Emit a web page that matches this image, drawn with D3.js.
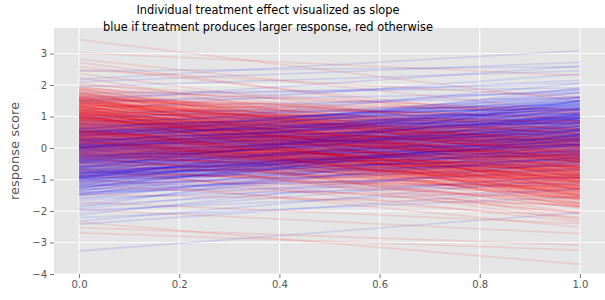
<!DOCTYPE html>
<html><head><meta charset="utf-8">
<script src="https://cdn.jsdelivr.net/npm/d3@7"></script>
<style>body{margin:0;background:#fff}svg{display:block}</style>
</head><body><svg id="c" width="605" height="300"></svg>
<script>
// response score without treatment (x = 0) and with treatment (x = 1), one entry per subject
const controlScore = [
  3.44, 3.02, 2.82, 2.72, 2.58, 2.48, 2.44, 2.36, 2.24, 2.18, 2.10, 2.05, 2.01,
  1.98, 1.95, 1.92, 1.90, 1.87, 1.84, 1.81, 1.78, 1.76, 1.73, 1.70, 1.68, 1.66, 1.63, 1.61, 1.59, 1.57, 1.55, 1.53, 1.52, 1.51, 1.50,
  1.49, 1.48, 1.46, 1.45, 1.44, 1.42, 1.41, 1.40, 1.38, 1.37, 1.35, 1.34, 1.32, 1.31, 1.30, 1.28, 1.27, 1.26, 1.24, 1.23,
  1.22, 1.20, 1.19, 1.18, 1.16, 1.15, 1.14, 1.12, 1.11, 1.10, 1.09, 1.08, 1.06, 1.05, 1.04, 1.03, 1.02, 1.01, 1.00, 1.00,
  0.99, 0.98, 0.97, 0.96, 0.95, 0.94, 0.93, 0.92, 0.91, 0.90, 0.89, 0.88, 0.87, 0.86, 0.85, 0.84, 0.83, 0.82, 0.81, 0.80,
  0.79, 0.78, 0.77, 0.76, 0.75, 0.74, 0.73, 0.72, 0.71, 0.70, 0.69, 0.68, 0.67, 0.66, 0.65, 0.64, 0.63, 0.62, 0.61, 0.60,
  0.59, 0.58, 0.57, 0.56, 0.55, 0.54, 0.53, 0.52, 0.52, 0.51, 0.51, 0.50, 0.50, 0.50, 0.50, 0.50,
  0.49, 0.48, 0.47, 0.46, 0.45, 0.44, 0.43, 0.42, 0.41, 0.40, 0.39, 0.38, 0.37, 0.36, 0.35, 0.34, 0.33, 0.32, 0.31, 0.30,
  0.29, 0.28, 0.27, 0.26, 0.25, 0.24, 0.23, 0.22, 0.21, 0.20, 0.19, 0.18, 0.17, 0.16, 0.15, 0.14, 0.13, 0.12, 0.11, 0.10,
  0.09, 0.08, 0.07, 0.06, 0.05, 0.05, 0.04, 0.03, 0.03, 0.02, 0.02, 0.01, 0.01, 0.00, 0.00, 0.00, 0.04, 0.12, 0.22, 0.33, 0.44, 0.27,
  -0.01, -0.02, -0.03, -0.04, -0.05, -0.06, -0.07, -0.08, -0.09, -0.10, -0.11, -0.12, -0.13, -0.14, -0.15, -0.16, -0.17, -0.18, -0.19, -0.20,
  -0.21, -0.22, -0.23, -0.24, -0.25, -0.26, -0.27, -0.28, -0.29, -0.30, -0.31, -0.32, -0.33, -0.34, -0.35, -0.36, -0.37, -0.38, -0.39, -0.40,
  -0.41, -0.42, -0.43, -0.44, -0.45, -0.46, -0.47, -0.48, -0.49, -0.50, -0.15, -0.35, -0.05, -0.25, -0.45, -0.20,
  -0.51, -0.53, -0.54, -0.56, -0.57, -0.59, -0.60, -0.62, -0.63, -0.65, -0.66, -0.68, -0.69, -0.71, -0.72, -0.74, -0.75, -0.77, -0.78, -0.80,
  -0.81, -0.83, -0.84, -0.86, -0.87, -0.89, -0.90, -0.92, -0.93, -0.95, -0.96, -0.97, -0.98, -0.99, -1.00, -0.58, -0.64, -0.76, -0.88, -0.94,
  -1.02, -1.04, -1.07, -1.09, -1.12, -1.14, -1.17, -1.19, -1.22, -1.24, -1.27, -1.29, -1.32, -1.34, -1.37, -1.39, -1.42, -1.44, -1.46, -1.48, -1.49, -1.50,
  -1.53, -1.58, -1.62, -1.67, -1.72, -1.78, -1.83, -1.88, -1.93, -1.98,
  -2.05, -2.13, -2.21, -2.32, -2.35, -2.42, -2.69, -3.27, -2.53, -1.95, -0.95,
  0.35, -0.62, 1.12, 0.08, -0.25, 0.78, 1.45, -0.90, 0.52, 0.18,
  -0.40, 0.95, 0.27, -1.05, 0.66, 1.30, -0.12, 0.44, 0.85, -0.70,
  1.05, 0.15, -0.33, 0.72, 1.58, -0.85, 0.38, 0.02, 1.22, -0.48,
  0.60, -0.18, 0.90, 1.38, -0.58, 0.25, 0.12, 1.15, -1.15, 0.48,
  0.82, -0.30, 1.50, 0.32, -0.75, 0.05, 1.02, 0.68, -0.08, 0.42,
  1.25, -0.52, 0.20, 0.98, -0.95, 0.58, 1.62, 0.10, -0.22, 0.75,
  0.30, 1.18, -0.65, 0.55, 0.88, -0.15, 1.42, -0.38, 0.22, 1.08,
  -0.80, 0.62, 0.00, 1.32, 0.46, -0.45, 0.92, 1.52, -0.05, 0.28,
  0.70, -1.00, 1.20, 0.40, -0.28, 0.80, 0.14, 1.68, -0.55, 0.50,
  1.00, -0.10, 0.36, 1.35, -0.68, 0.64, 0.06, 1.10, -0.35, 0.86,
  0.24, 1.48, -0.78, 0.58, 0.94, -0.20, 0.45, 1.28, -1.10, 0.16,
  0.76, 1.55, -0.42, 0.34, 1.06, -0.02, 0.62, -0.88, 1.40, 0.20,
  -0.15, 0.88, 1.15, -0.60, 0.40, 1.72, 0.08, -0.32, 0.96, 0.52,
  1.30, -0.48, 0.26, 0.74, -0.92, 1.08, 0.44, -0.12, 1.60, 0.32,
  0.12, 0.84, -0.70, 1.22, 0.56, -0.25, 0.98, 0.38, -1.20, 0.68,
  1.45, 0.04, -0.40, 0.90, 0.22, 1.12, -0.82, 0.60, 0.30, -0.05,
  1.85, 1.62, 1.40, 1.75, 1.18, 1.55, 0.95, 1.30, 1.68, 1.05, 1.48, 1.22, 1.80, 1.10, 1.35,
  1.58, 0.98, 1.42, 1.72, 1.15, 1.26, 1.52, 1.00, 1.64, 1.36, 1.90, 1.08, 1.45, 1.20, 1.60,
  -1.45, -0.90, -1.20, -0.65, -1.05, -1.30, -0.80, -0.98, -0.72, -1.38,
  -0.86, -1.12, -0.68, -1.24, -0.94, -0.75, -1.08, -0.83, -1.27, -0.60,
  0.10, -0.30, 0.45, -0.10, 0.25, -0.45, 0.35, 0.00, -0.20, 0.50, 0.15, -0.38, 0.30, -0.05, 0.40,
  0.30, -0.20, 0.75, 0.05, 0.55, -0.10, 0.40, 0.65, -0.30, 0.20, 0.80, 0.00, 0.45, 0.15, 0.60
];
const treatedScore = [
  1.48, 2.30, 1.15, 0.60, 0.85, 1.62, 2.58, 0.32, -0.35, 3.09, 2.72, 0.52, 1.10,
  -0.45, 2.45, 0.55, 1.05, -0.20, 1.20, 0.70, -0.95, 0.40, 1.90, 0.05, 0.85, -1.35, 0.30, 2.05, 0.60, -0.10, 1.20, -0.70, 0.45, 0.95, 2.60,
  -0.15, 1.75, -0.80, 0.55, 0.95, -0.30, 2.15, 0.30, -1.30, 0.75, 0.10, 1.25, -0.55, 0.45, 1.60, 0.00, -1.75, 0.70, 0.20, 1.10,
  -0.45, 0.35, 2.35, -0.20, 0.85, -1.05, 0.60, 0.05, 1.35, -0.65, 0.25, 1.00, -0.35, 0.50, -1.50, 0.80, -0.05, 1.85, 0.20, -0.90,
  1.05, -0.60, 0.30, 1.40, -0.10, -1.40, 0.58, 0.85, -0.35, 0.15, 1.85, 0.42, -0.92, 1.10, 0.00, 0.75, -1.85, 0.25, 1.28, -0.25,
  0.50, -1.15, 0.95, 0.08, 1.62, -0.50, 0.35, 0.80, -0.80, -0.05, 1.20, 0.20, -1.55, 0.65, -0.15, 1.50, -0.40, 0.40, 0.90, -1.05,
  0.10, 2.05, 0.55, -0.65, 0.78, -0.08, 1.15, -1.20, 0.28, 0.70, -0.30, 1.35, 0.02, -0.85, 0.45, 1.00,
  -0.35, 0.80, -1.10, 0.20, 1.45, -0.55, 0.52, -0.05, 1.10, -1.50, 0.35, 0.95, -0.25, 1.75, 0.05, -0.80, 0.62, 1.25, -0.40, 0.15,
  -1.85, 0.88, -0.12, 0.45, 1.60, -0.65, 0.25, -0.95, 1.02, 0.00, 0.70, -1.30, 0.40, -0.20, 1.35, -0.50, 0.10, 0.85, -0.75, 0.30,
  1.90, -0.30, 0.55, -1.05, 0.20, 1.15, -0.45, 0.68, -0.10, -1.60, 0.40, 1.50, -0.60, 0.08, 0.95, -0.28, -2.05, -0.85, 0.58, -0.15, 0.25, -2.25,
  0.45, -0.90, 0.10, -0.35, 1.20, -1.45, 0.30, -0.10, 0.75, -0.60, -1.90, 0.05, 0.95, -0.40, -1.10, 0.50, -0.20, 1.45, -0.75, 0.15,
  -1.30, -0.05, 0.65, -0.50, -2.10, 0.25, -0.85, 1.05, -0.30, 0.40, -1.60, -0.15, 0.80, -0.65, 0.00, -1.20, 0.55, -0.45, 1.60, -0.95,
  0.20, -0.25, -1.75, 0.70, -0.55, 0.10, -1.05, 0.35, -0.35, 0.90, -2.30, -1.40, -0.70, 0.30, -0.10, -1.00,
  -1.30, 0.20, -0.60, 0.85, -1.75, -0.25, 0.45, -0.95, 1.25, -0.40, -1.50, 0.10, -0.75, 0.60, -2.05, -0.15, 0.95, -0.55, -1.15, 0.30,
  -0.35, 1.50, -0.85, 0.05, -1.60, 0.70, -0.45, -0.05, -1.25, 0.40, -0.70, 1.05, -0.20, -1.85, 0.25, -0.10, -2.35, 0.15, -0.95, 0.80,
  -0.40, 0.55, -1.20, -0.10, -2.20, 0.25, -0.65, 1.10, -0.95, -0.30, -1.55, 0.40, -0.80, -0.15, 0.80, -1.10, -0.50, 0.10, -1.80, -0.70, 0.60, -0.25,
  -0.30, -1.15, 0.15, -0.65, -2.40, 0.00, -0.90, 0.45, -0.45, -1.30,
  -0.85, -0.40, -1.55, -0.95, -3.69, -1.30, -3.24, -2.05, -3.08, -2.72, -2.52,
  -0.55, 0.40, 0.10, 0.85, -1.10, -0.30, 0.20, -0.15, 1.05, -0.70,
  0.55, -0.45, -0.95, 0.30, 1.20, -0.20, -0.60, 0.95, -0.85, -1.30,
  0.25, -1.25, 0.70, -0.40, 0.60, 0.15, -0.80, 1.30, -0.35, -0.90,
  1.10, -0.70, -0.25, 0.45, 0.35, -1.45, 0.65, -0.55, -0.20, 0.90,
  -0.45, 0.80, 0.05, -1.00, -1.35, 0.50, 1.25, -0.65, -0.30, 0.20,
  -0.85, 0.30, 1.00, -0.10, -0.55, -1.60, 0.75, 0.40, -1.05, 0.10,
  1.35, -0.40, 0.25, -0.95, 0.55, -0.70, 0.30, 0.60, -1.20, -0.15,
  0.15, -1.05, 0.95, -0.25, -0.60, 0.70, 0.00, 1.15, -0.85, 0.45,
  -1.50, 0.25, -0.45, 1.45, -0.05, -0.75, 0.80, 0.35, -1.15, -0.25,
  -0.35, 1.00, -1.30, 0.15, -0.20, -0.90, 0.55, 0.85, 0.20, -0.60,
  0.90, 0.10, -0.50, -1.25, 1.10, 0.35, -0.95, -0.05, 0.40, -0.40,
  0.65, -0.15, 0.05, -0.70, -1.55, 0.85, 1.40, -0.30, 0.00, -1.00,
  0.60, -0.35, 1.20, -0.10, -0.80, 0.45, -1.40, 0.75, -0.45, 1.60,
  0.25, -0.20, -1.10, 1.05, 0.10, -0.60, -0.25, 0.50, 0.90, -1.65,
  -0.65, 1.30, -0.40, 0.20, -1.00, 0.05, -0.30, 1.00, -0.55, -0.20,
  0.45, -0.85, 0.65, -0.45, 1.25, -0.75, 0.15, 1.50, -1.35, 0.35,
  -0.40, -1.20, 0.20, -0.85, -1.55, 0.05, -0.60, -1.80, -0.25, -1.05, 0.30, -1.40, -0.70, -0.15, -1.65,
  -0.95, -1.30, -0.50, 0.10, -1.10, -0.35, -1.50, -0.80, -0.05, -1.25, -0.65, -1.70, -0.20, -0.90, -1.35,
  -0.30, 0.60, 0.20, 1.40, -0.45, 0.95, 0.10, 1.15, -0.20, 0.45,
  0.80, -0.05, 1.25, 0.30, 1.50, 0.00, 0.70, -0.35, 0.55, 1.05,
  1.20, 0.95, 1.65, 1.40, 0.85, 1.10, 1.80, 1.30, 1.00, 1.55, 1.75, 0.90, 1.25, 1.50, 1.05,
  -1.40, -1.05, -1.85, -1.20, -1.60, -0.95, -1.75, -1.30, -1.50, -1.15, -1.10, -1.90, -1.45, -1.65, -1.00
];
const conditionX = [0, 1];
const xTickValues = [0.0, 0.2, 0.4, 0.6, 0.8, 1.0];
const yTickValues = [-4, -3, -2, -1, 0, 1, 2, 3];
const titleLines = ["Individual treatment effect visualized as slope",
                    "blue if treatment produces larger response, red otherwise"];
const yLabel = "response score";

const svg = d3.select("#c");
const L = 54, R = 605, T = 28, B = 274;
const x = d3.scaleLinear().domain([-0.05, 1.05]).range([L, R]);
const y = d3.scaleLinear().domain([-4, 3.81]).range([B, T]);

svg.append("rect").attr("x", L).attr("y", T).attr("width", R - L).attr("height", B - T).attr("fill", "#E5E5E5");

// grid
const g = svg.append("g");
g.selectAll(".gx").data(xTickValues).join("line")
  .attr("x1", d => x(d)).attr("x2", d => x(d)).attr("y1", T).attr("y2", B)
  .attr("stroke", "#fff").attr("stroke-width", 1.1);
g.selectAll(".gy").data(yTickValues).join("line")
  .attr("y1", d => y(d)).attr("y2", d => y(d)).attr("x1", L).attr("x2", R)
  .attr("stroke", "#fff").attr("stroke-width", 1.1);

// subjects, drawn in an interleaved order so colours mix as in the original plot
const n = controlScore.length;
const rows = d3.range(n).map(k => { const i = (k * 37) % n; return {c: controlScore[i], t: treatedScore[i]}; });
svg.append("clipPath").attr("id", "pc").append("rect")
  .attr("x", L).attr("y", T).attr("width", R - L).attr("height", B - T);
const line = d3.line().x(d => x(d[0])).y(d => y(d[1]));
svg.append("g").attr("clip-path", "url(#pc)")
  .selectAll("path").data(rows).join("path")
  .attr("d", d => line([[conditionX[0], d.c], [conditionX[1], d.t]]))
  .attr("fill", "none")
  .attr("stroke", d => d.t > d.c ? "#0000ff" : "#ff0000")
  .attr("stroke-opacity", 0.1)
  .attr("stroke-width", 1.8);

// axes
const fmt = d3.format(".1f");
const xAxis = d3.axisBottom(x).tickValues(xTickValues).tickFormat(fmt).tickSize(4).tickPadding(3);
const yAxis = d3.axisLeft(y).tickValues(yTickValues).tickFormat(d => d < 0 ? "\u2212" + Math.abs(d) : d).tickSize(4).tickPadding(3);
const ax = svg.append("g").attr("transform", `translate(0,${B})`).call(xAxis);
const ay = svg.append("g").attr("transform", `translate(${L},0)`).call(yAxis);
[ax, ay].forEach(a => {
  a.select(".domain").remove();
  a.selectAll(".tick line").attr("stroke", "#555").attr("stroke-width", 0.8);
  a.selectAll(".tick text").attr("fill", "#555").attr("font-family", "DejaVu Sans").attr("font-size", 10);
});

svg.append("text").attr("transform", `translate(19,${(T + B) / 2}) rotate(-90)`)
  .attr("text-anchor", "middle").attr("font-family", "DejaVu Sans").attr("font-size", 13)
  .attr("fill", "#555").text(yLabel);

svg.selectAll(".title").data(titleLines).join("text")
  .attr("x", 268).attr("y", (d, i) => 14 + i * 16.5)
  .attr("text-anchor", "middle").attr("font-family", "DejaVu Sans").attr("font-size", 11.4)
  .attr("fill", "#000").text(d => d);
</script>
</body></html>
